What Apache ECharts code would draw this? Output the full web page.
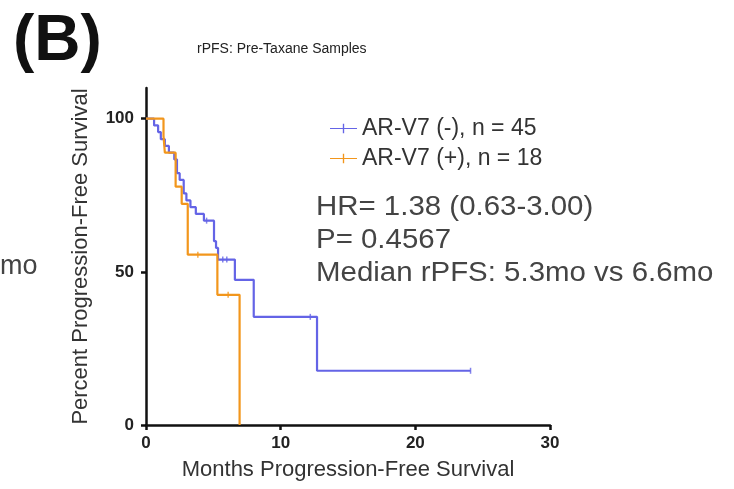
<!DOCTYPE html>
<html>
<head>
<meta charset="utf-8">
<script src="https://cdn.jsdelivr.net/npm/echarts@6/dist/echarts.min.js"></script>
<style>html,body{margin:0;padding:0;background:#fff}#c{width:734px;height:489px}</style>
</head>
<body>
<div id="c"></div>
<script>
// Kaplan-Meier steps: [months, percent surviving from that time]
const negName = 'AR-V7 (-), n = 45';
const posName = 'AR-V7 (+), n = 18';
const negTimes = [0, 0.6, 0.9, 1.1, 1.4, 1.7, 2.1, 2.3, 2.5, 2.8, 3.0, 3.3, 3.7, 4.3, 5.05, 5.2, 5.35, 6.6, 8.0, 12.7, 24.1];
const negSurv  = [100, 97.8, 95.6, 93.3, 91.1, 88.9, 86.7, 82.2, 80.0, 75.6, 73.3, 71.1, 68.9, 66.7, 60.0, 57.8, 54.0, 47.4, 35.3, 17.7, 17.7];
const negCensorTimes = [4.5, 5.7, 6.0, 12.2, 24.1];
const negCensorSurv  = [66.7, 54.0, 54.0, 35.3, 17.7];
const posTimes = [0, 1.3, 1.4, 2.2, 2.65, 3.1, 5.3, 6.95];
const posSurv  = [100, 94.4, 88.9, 77.8, 72.2, 55.6, 42.5, 0];
const posCensorTimes = [3.85, 6.1];
const posCensorSurv  = [55.6, 42.5];
const yTicks = [0, 50, 100];
const xTicks = [0, 10, 20, 30];
const annotations = ['HR= 1.38 (0.63-3.00)', 'P= 0.4567', 'Median rPFS: 5.3mo vs 6.6mo'];

const blue = '#6464e6';
const orange = '#f2961c';
const zip = (a, b) => a.map((v, i) => [v, b[i]]);
const font = 'Liberation Sans, Arial, sans-serif';
const legendIcon = 'path://M0,4.4H28V5.6H0Z M13.3,0H14.7V10H13.3Z';

const chart = echarts.init(document.getElementById('c'));
chart.setOption({
  animation: false,
  backgroundColor: '#fff',
  title: {
    text: 'rPFS: Pre-Taxane Samples',
    left: 192, top: 37,
    textStyle: { fontFamily: font, fontSize: 14, fontWeight: 'normal', color: '#222' }
  },
  legend: {
    orient: 'vertical', left: 325, top: 112,
    data: [{ name: negName, icon: legendIcon }, { name: posName, icon: legendIcon }],
    itemWidth: 27, itemHeight: 10, itemGap: 7,
    textStyle: { fontFamily: font, fontSize: 23, color: '#333' }
  },
  grid: { left: 146, right: 184, top: 88, bottom: 64 },
  xAxis: {
    type: 'value', min: 0, max: 30, interval: 10,
    name: 'Months Progression-Free Survival', nameLocation: 'middle', nameGap: 34,
    nameTextStyle: { fontFamily: font, fontSize: 22, color: '#333' },
    axisLine: { lineStyle: { color: '#111', width: 2.5 } },
    axisTick: { show: true, length: 5, customValues: xTicks, lineStyle: { color: '#111', width: 2.5 } },
    axisLabel: { fontFamily: font, fontSize: 17, fontWeight: 'bold', color: '#222', margin: 10, customValues: xTicks },
    splitLine: { show: false }
  },
  yAxis: {
    type: 'value', min: 0, max: 110, interval: 50,
    name: 'Percent Progression-Free Survival', nameLocation: 'middle', nameGap: 54,
    nameTextStyle: { fontFamily: font, fontSize: 22, color: '#333' },
    axisLine: { lineStyle: { color: '#111', width: 2.5 } },
    axisTick: { show: true, length: 5, customValues: yTicks, lineStyle: { color: '#111', width: 2.5 } },
    axisLabel: { fontFamily: font, fontSize: 17, fontWeight: 'bold', color: '#222', margin: 12, customValues: yTicks },
    splitLine: { show: false }
  },
  series: [
    { name: negName, type: 'line', step: 'end', data: zip(negTimes, negSurv),
      showSymbol: false, symbol: 'none',
      itemStyle: { color: blue }, lineStyle: { color: blue, width: 2.2 }, z: 3 },
    { name: posName, type: 'line', step: 'end', data: zip(posTimes, posSurv),
      showSymbol: false, symbol: 'none',
      itemStyle: { color: orange }, lineStyle: { color: orange, width: 2.2 }, z: 4 },
    { name: 'negCensor', type: 'scatter', data: zip(negCensorTimes, negCensorSurv),
      symbol: 'rect', symbolSize: [1.5, 6], itemStyle: { color: blue }, z: 5 },
    { name: 'posCensor', type: 'scatter', data: zip(posCensorTimes, posCensorSurv),
      symbol: 'rect', symbolSize: [1.5, 6], itemStyle: { color: orange }, z: 5 }
  ],
  graphic: [
    { type: 'text', left: 13, top: 10, style: { text: '(B)', fontFamily: font, fontSize: 64, fontWeight: 'bold', fill: '#111' } },
    { type: 'text', left: 0, top: 253, style: { text: 'mo', fontFamily: font, fontSize: 27, fill: '#444' } },
    { type: 'text', x: 316, y: 194, scaleX: 1.09, style: { text: annotations[0], fontFamily: font, fontSize: 27, fill: '#444' } },
    { type: 'text', x: 316, y: 227, scaleX: 1.09, style: { text: annotations[1], fontFamily: font, fontSize: 27, fill: '#444' } },
    { type: 'text', x: 316, y: 260, scaleX: 1.09, style: { text: annotations[2], fontFamily: font, fontSize: 27, fill: '#444' } }
  ]
});
</script>
</body>
</html>
